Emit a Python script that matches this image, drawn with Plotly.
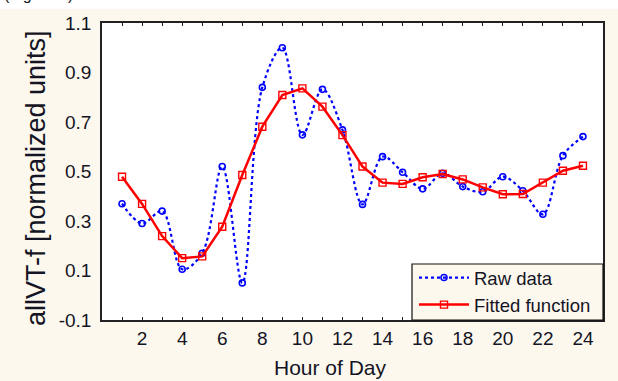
import plotly.graph_objects as go

hours = list(range(1, 25))
raw_data = [0.37, 0.29, 0.34, 0.105, 0.17, 0.52, 0.05, 0.84, 1.0, 0.648, 0.832, 0.668,
            0.367, 0.56, 0.497, 0.43, 0.493, 0.439, 0.418, 0.479, 0.422, 0.327, 0.564, 0.641]
fitted = [0.479, 0.369, 0.239, 0.15, 0.157, 0.277, 0.486, 0.681, 0.809, 0.836, 0.762, 0.647,
          0.52, 0.455, 0.45, 0.477, 0.49, 0.468, 0.436, 0.408, 0.409, 0.455, 0.503, 0.523]
x_tickvals = list(range(1, 26))
x_ticktext = [str(h) if h % 2 == 0 and h <= 24 else "" for h in x_tickvals]
y_tickvals = [-0.1, 0.1, 0.3, 0.5, 0.7, 0.9, 1.1]
y_ticktext = ["-0.1", "0.1", "0.3", "0.5", "0.7", "0.9", "1.1"]

CREAM = "#fdf8ee"
TXT = "#141424"
FONT = "Liberation Sans, Arial, sans-serif"
W, H = 618, 381
L, R, T, B = 102, 15, 23, 61
PW, PH = W - L - R, H - T - B

fig = go.Figure()
fig.add_trace(go.Scatter(
    x=hours, y=raw_data, name="Raw data", mode="lines+markers",
    line=dict(color="#0000ff", width=2.2, dash="dot", shape="spline", smoothing=1.0),
    marker=dict(symbol="circle-open", size=6, color="#0000ff", line=dict(width=1.6)),
))
fig.add_trace(go.Scatter(
    x=hours, y=fitted, name="Fitted function", mode="lines+markers",
    line=dict(color="#ff0000", width=2.5),
    marker=dict(symbol="square-open", size=7, color="#ff0000", line=dict(width=1.4)),
))

fig.update_layout(
    width=W, height=H,
    margin=dict(l=L, r=R, t=T, b=B, autoexpand=False),
    paper_bgcolor=CREAM, plot_bgcolor="white",
    font=dict(family=FONT, size=19, color=TXT),
    showlegend=True,
    legend=dict(x=(414 - L) / PW, y=(320 - 259) / PH, xanchor="left", yanchor="top",
                bgcolor="rgba(0,0,0,0)", borderwidth=0,
                font=dict(size=18.5, color=TXT), tracegroupgap=0,
                itemwidth=50),
    xaxis=dict(range=[0, 25], tickvals=x_tickvals, ticktext=x_ticktext,
               ticks="inside", ticklen=3, tickcolor="#222",
               showline=True, linecolor="#222", linewidth=1.5, mirror="ticks",
               showgrid=False, zeroline=False, automargin=False,
               tickfont=dict(size=19)),
    yaxis=dict(range=[-0.1, 1.1], tickvals=y_tickvals, ticktext=y_ticktext,
               ticks="", showline=True, linecolor="#222", linewidth=1.5, mirror=True,
               showgrid=False, zeroline=False, automargin=False,
               ticklabelstandoff=5,
               tickfont=dict(size=19)),
)

# legend box (left/top border, reaching the plot frame)
fig.add_shape(type="rect", xref="paper", yref="paper",
              x0=(412 - L) / PW, x1=1.0, y0=0.0, y1=(320 - 264) / PH,
              fillcolor=CREAM, line=dict(color="#111", width=1.2), layer="above")

# axis titles placed to match the reference
fig.add_annotation(text="Hour of Day", xref="paper", yref="paper",
                   x=(330 - L) / PW, y=-(367 - (T + PH)) / PH, xanchor="center", yanchor="middle",
                   showarrow=False, font=dict(size=21, color=TXT))
fig.add_annotation(text="allVT-f [normalized units]", xref="paper", yref="paper",
                   x=-(L - 36) / PW, y=(T + PH - 178) / PH, xanchor="center", yanchor="middle",
                   textangle=-90, showarrow=False, font=dict(size=27, color=TXT))

# page strip and clipped caption text above the chart image
fig.add_shape(type="rect", xref="paper", yref="paper", x0=-0.3, x1=1.1,
              y0=1 + 14 / PH, y1=1.2, fillcolor="white", line=dict(width=0), layer="below")
fig.add_annotation(text="(Figure 2).", xref="paper", yref="paper",
                   x=-0.2, y=1 + 18 / PH, xanchor="left", yanchor="bottom",
                   showarrow=False, font=dict(size=16, color=TXT))

# place the figure at the page origin (no default body margin)
fig.write_html("out.html", config={"displayModeBar": False},
               post_script="document.body.style.margin='0';")
